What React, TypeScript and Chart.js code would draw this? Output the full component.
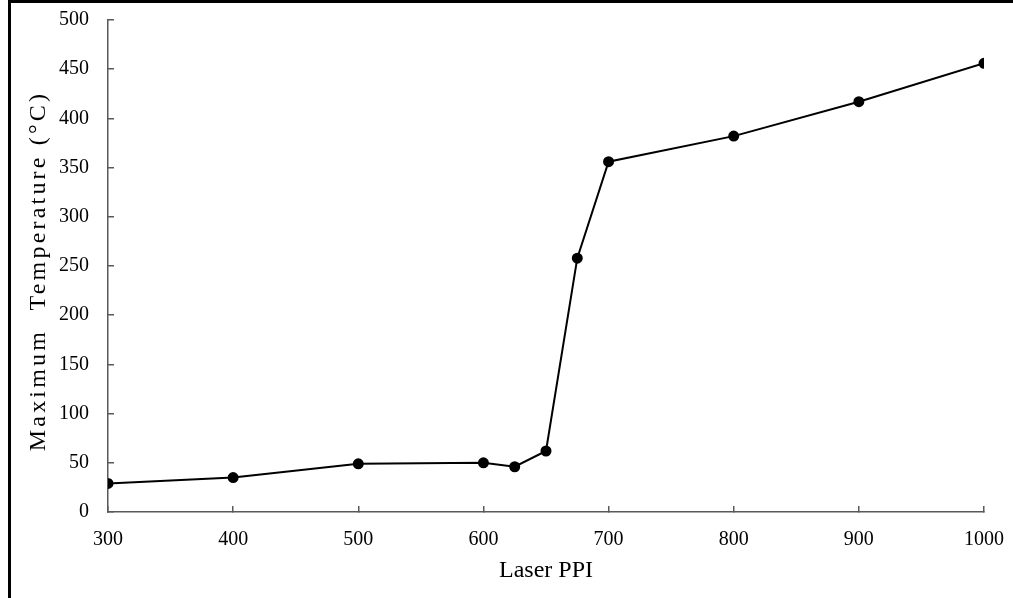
import React, { useEffect, useRef } from "react";
import { Chart, registerables } from "chart.js";

Chart.register(...registerables);

const laserPPI = [300, 400, 500, 600, 625, 650, 675, 700, 800, 900, 1000];
const maxTemperature = [29, 35, 49, 50, 46, 62, 258, 356, 382, 417, 456];
const xTitle = "Laser PPI";
const yTitle = "Maximum  Temperature (°C)";

const FONT = "'Liberation Serif', 'Times New Roman', serif";
const AXIS = "#595959";

const spacedTitle = {
  id: "spacedTitle",
  afterLayout(chart: any) {
    const s = chart.scales.y;
    if (s && !s.__spaced) {
      const orig = s.drawTitle;
      s.drawTitle = function (...args: any[]) {
        const ctx = this.ctx;
        ctx.save();
        ctx.translate(0, 5);
        (ctx as any).letterSpacing = "3.2px";
        orig.apply(this, args);
        ctx.restore();
      };
      s.__spaced = true;
    }
  },
};

export default function App() {
  const ref = useRef<HTMLCanvasElement | null>(null);

  useEffect(() => {
    if (!ref.current) return;
    const chart = new Chart(ref.current, {
      type: "line",
      data: {
        datasets: [
          {
            data: laserPPI.map((x, i) => ({ x, y: maxTemperature[i] })),
            borderColor: "#000",
            backgroundColor: "#000",
            borderWidth: 2,
            pointRadius: 4.5,
            pointBackgroundColor: "#000",
            pointBorderColor: "#000",
            tension: 0,
          },
        ],
      },
      options: {
        animation: false,
        responsive: false,
        devicePixelRatio: 1,
        layout: { padding: { left: 0, top: 20, right: 29, bottom: 0 } },
        plugins: { legend: { display: false }, tooltip: { enabled: false } },
        scales: {
          x: {
            type: "linear",
            min: 300,
            max: 1000,
            ticks: {
              stepSize: 100,
              padding: 22,
              color: "#000",
              font: { family: FONT, size: 20 },
              callback: (v: any) => String(v),
            },
            grid: { drawOnChartArea: false, drawTicks: true, tickLength: -6, color: AXIS, lineWidth: 1.5 },
            border: { color: AXIS, width: 1.5 },
            title: { display: true, text: xTitle, color: "#000", font: { family: FONT, size: 24 }, padding: { top: 0, bottom: 13 } },
            afterFit: (s: any) => {
              s.height = 86;
              s.paddingLeft = 0;
              s.paddingRight = 0;
            },
          },
          y: {
            min: 0,
            max: 500,
            ticks: { stepSize: 50, padding: 25, color: "#000", font: { family: FONT, size: 20 } },
            grid: { drawOnChartArea: false, drawTicks: true, tickLength: -6, color: AXIS, lineWidth: 1.5 },
            border: { color: AXIS, width: 1.5 },
            title: { display: true, text: yTitle, color: "#000", font: { family: FONT, size: 24 }, padding: { top: 24, bottom: 0 } },
            afterFit: (s: any) => {
              s.width = 108;
              s.paddingTop = 0;
              s.paddingBottom = 0;
            },
          },
        },
      },
      plugins: [spacedTitle],
    });
    chart.draw();
    return () => chart.destroy();
  }, []);

  return (
    <div style={{ position: "fixed", left: 0, top: 0, width: 1013, height: 598, background: "#fff" }}>
      <canvas ref={ref} width={1013} height={598} style={{ position: "absolute", left: 0, top: 0, width: 1013, height: 598 }} />
      <div
        style={{
          position: "absolute",
          left: 8,
          top: 0,
          width: 1010,
          height: 595,
          borderLeft: "3px solid #000",
          borderTop: "3px solid #000",
          borderBottom: "1px solid #d4d4d4",
          pointerEvents: "none",
        }}
      />
    </div>
  );
}
